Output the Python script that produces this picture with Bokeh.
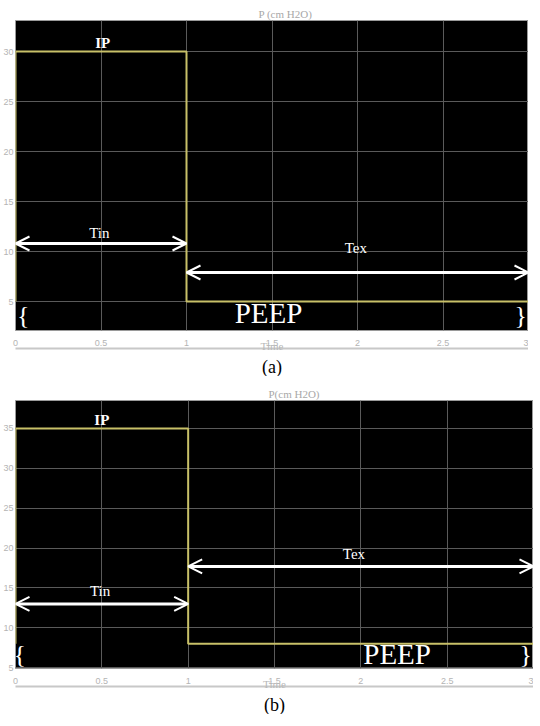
from bokeh.plotting import figure
from bokeh.layouts import column
from bokeh.models import Arrow, OpenHead, LinearAxis, FixedTicker, Title, Range1d
from bokeh.core.properties import value
from bokeh.embed import file_html
from bokeh.resources import INLINE

# ---------------- data ----------------
time_a = [0, 0, 1, 1, 3]
pressure_a = [5, 30, 30, 5, 5]
time_b = [0, 0, 1, 1, 3]
pressure_b = [8, 35, 35, 8, 8]

x_ticks = [0, 0.5, 1, 1.5, 2, 2.5, 3]
x_tick_labels = ["0", "0.5", "1", "1.5", "2", "2.5", "3"]
y_ticks_a = [5, 10, 15, 20, 25, 30]
y_ticks_b = [5, 10, 15, 20, 25, 30, 35]

# annotation anchors (time, pressure)
tin_arrow_a = [0, 1, 10.8]
tex_arrow_a = [1, 3, 7.9]
tin_arrow_b = [0, 1, 13.0]
tex_arrow_b = [1, 3, 17.7]

ip_label_a = [0.51, 30.9]
tin_label_a = [0.49, 11.9]
tex_label_a = [1.99, 10.4]
peep_label_a = [1.48, 3.9]
braces_a_x = [0.045, 2.955]
braces_a_y = [3.6, 3.6]

ip_label_b = [0.5, 36.1]
tin_label_b = [0.49, 14.6]
tex_label_b = [1.96, 19.3]
peep_label_b = [2.21, 6.7]
braces_b_x = [0.025, 2.955]
braces_b_y = [6.6, 6.6]

SERIF = "Liberation Serif"
SANS = "Liberation Sans"
WAVE = "#c8c068"
GRID = "#5a5a5a"
TICK = "#b4b4b4"


def make_panel(t, pr, y_ticks, yr, fw, fh, top_border, title_text, title_offset, caption,
               tin_arrow, tex_arrow, ip_lbl, tin_lbl, tex_lbl, peep_lbl, br_x, br_y):
    p = figure(frame_width=fw, frame_height=fh, x_range=Range1d(0, 3), y_range=Range1d(*yr),
               output_backend="svg", toolbar_location=None,
               background_fill_color="black", border_fill_color="white",
               min_border_left=0, min_border_right=0, min_border_top=top_border,
               min_border_bottom=0)
    p.outline_line_color = "#9a9a9a"
    p.outline_line_width = 1

    p.title.text = title_text
    p.title.align = "left"
    p.title.offset = title_offset
    p.title.text_font = SERIF
    p.title.text_font_size = "11px"
    p.title.text_font_style = "normal"
    p.title.text_color = "#a8a8a8"
    p.title.standoff = 1

    p.xaxis.ticker = FixedTicker(ticks=x_ticks)
    p.xaxis.major_label_overrides = {k: v for k, v in zip(x_ticks, x_tick_labels)}
    p.yaxis.ticker = FixedTicker(ticks=y_ticks)
    for ax in (p.xaxis, p.yaxis):
        ax.axis_line_color = None
        ax.major_tick_out = 0
        ax.major_tick_in = 0
        ax.minor_tick_line_color = None
        ax.major_label_text_font = SANS
        ax.major_label_text_font_size = "9px"
        ax.major_label_text_color = TICK
    p.xaxis.major_label_standoff = 9
    p.yaxis.major_label_standoff = 2

    p.xgrid.ticker = FixedTicker(ticks=x_ticks)
    p.ygrid.ticker = FixedTicker(ticks=y_ticks)
    p.grid.grid_line_color = GRID
    p.grid.grid_line_width = 1

    time_axis = LinearAxis(ticker=FixedTicker(ticks=[]), axis_line_color="#c8c8c8",
                           axis_line_width=2, axis_label="Time",
                           axis_label_text_color="#b8b8b8", axis_label_text_font=SERIF,
                           axis_label_text_font_size="11px", axis_label_text_font_style="normal",
                           axis_label_standoff=-9, major_label_text_font_size="0px",
                           major_tick_out=0, major_tick_in=0, minor_tick_out=0, minor_tick_in=0)
    p.add_layout(time_axis, "below")

    cap = Title(text=caption, align="center", text_font=SERIF, text_font_size="18px",
                text_font_style="normal", text_color="black", standoff=0)
    p.add_layout(cap, "below")

    p.line(t, pr, line_color=WAVE, line_width=2)

    for a in (tin_arrow, tex_arrow):
        p.add_layout(Arrow(start=OpenHead(size=14, line_color="white", line_width=2),
                           end=OpenHead(size=14, line_color="white", line_width=2),
                           x_start=a[0], x_end=a[1], y_start=a[2], y_end=a[2],
                           line_color="white", line_width=3))

    p.text(x=[ip_lbl[0]], y=[ip_lbl[1]], text=["IP"], text_font=value(SERIF),
           text_font_size="15px", text_font_style="bold", text_color="white",
           text_align="center", text_baseline="middle")
    p.text(x=[tin_lbl[0], tex_lbl[0]], y=[tin_lbl[1], tex_lbl[1]], text=["Tin", "Tex"],
           text_font=value(SERIF), text_font_size="15px", text_color="white",
           text_align="center", text_baseline="middle")
    p.text(x=[peep_lbl[0]], y=[peep_lbl[1]], text=["PEEP"], text_font=value(SERIF),
           text_font_size="29px", text_color="white",
           text_align="center", text_baseline="middle")
    p.text(x=br_x, y=br_y, text=["{", "}"], text_font=value(SERIF),
           text_font_size="26px", text_color="white",
           text_align="center", text_baseline="middle")
    return p


p1 = make_panel(time_a, pressure_a, y_ticks_a, (2.1, 33.1), 513, 310, 20, "P (cm H2O)", 243, "(a)",
                tin_arrow_a, tex_arrow_a, ip_label_a, tin_label_a, tex_label_a, peep_label_a,
                braces_a_x, braces_a_y)
p2 = make_panel(time_b, pressure_b, y_ticks_b, (4.9, 38.5), 518, 268, 24, "P(cm H2O)", 253, "(b)",
                tin_arrow_b, tex_arrow_b, ip_label_b, tin_label_b, tex_label_b, peep_label_b,
                braces_b_x, braces_b_y)

layout = column(p1, p2, spacing=0)
open("out.html", "w").write(file_html(layout, INLINE))
